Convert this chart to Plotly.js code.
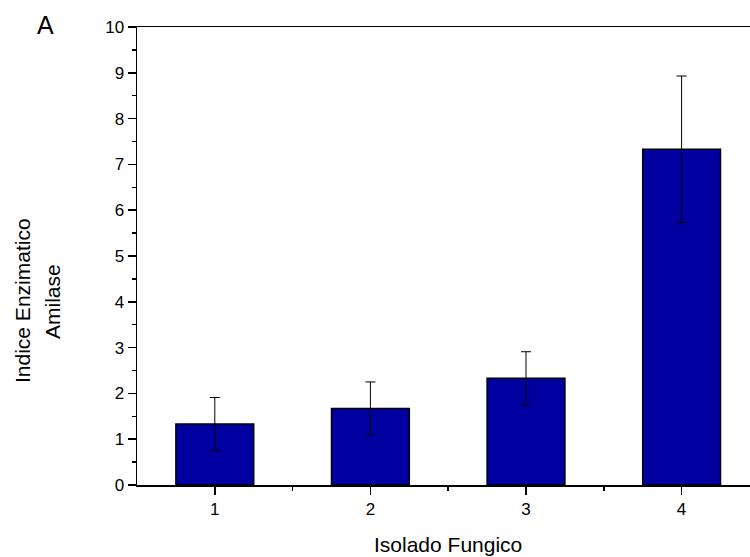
<!DOCTYPE html>
<html>
<head>
<meta charset="utf-8">
<script src="https://cdn.plot.ly/plotly-3.0.1.min.js"></script>
<style>html,body{margin:0;padding:0;background:#fff;}#chart{width:750px;height:557px;}</style>
</head>
<body>
<div id="chart"></div>
<script>
const isolates = [1, 2, 3, 4];
const tickLabels = ["1", "2", "3", "4"];
const amylaseIndex = [1.33, 1.67, 2.33, 7.33];
const amylaseSD = [0.58, 0.58, 0.58, 1.6];

const W = 750, H = 557;
const M = {l: 137, r: 0, t: 27, b: 72};
const pw = W - M.l - M.r, ph = H - M.t - M.b;
const px2x = p => (p - M.l) / pw;
const px2y = p => (H - M.b - p) / ph;
const FONT = "Liberation Sans, Arial, sans-serif";

const trace = {
  type: 'bar',
  x: isolates,
  y: amylaseIndex,
  width: 0.5,
  marker: {color: '#0000A0', line: {color: '#000000', width: 1.5}},
  error_y: {type: 'data', array: amylaseSD, visible: true, color: '#000000', thickness: 1, width: 5},
  hoverinfo: 'x+y'
};

const layout = {
  width: W, height: H,
  margin: M,
  paper_bgcolor: '#ffffff', plot_bgcolor: '#ffffff',
  font: {family: FONT, color: '#000000'},
  showlegend: false,
  xaxis: {
    range: [0.5, 0.5 + pw / 155.6],
    tickmode: 'array', tickvals: isolates, ticktext: tickLabels,
    ticks: 'outside', ticklen: 8, tickwidth: 1.5, tickcolor: '#000',
    minor: {ticks: 'outside', ticklen: 4, tickwidth: 1.5, tickcolor: '#000', tickvals: [1.5, 2.5, 3.5]},
    showline: true, linecolor: '#000', linewidth: 1.5, mirror: true,
    showgrid: false, zeroline: false,
    tickfont: {size: 17, family: FONT, color: '#000'}
  },
  yaxis: {
    range: [0, 10], dtick: 1, tick0: 0,
    ticks: 'outside', ticklen: 8, tickwidth: 1.5, tickcolor: '#000',
    minor: {ticks: 'outside', ticklen: 4, tickwidth: 1.5, tickcolor: '#000', dtick: 0.5},
    showline: true, linecolor: '#000', linewidth: 1.5, mirror: false,
    showgrid: false, zeroline: false,
    tickfont: {size: 17, family: FONT, color: '#000'}
  },
  annotations: [
    {text: 'Indice Enzimatico', xref: 'paper', yref: 'paper', x: px2x(22), y: px2y(301),
     xanchor: 'center', yanchor: 'middle', textangle: -90, showarrow: false,
     font: {size: 21, family: FONT, color: '#000'}},
    {text: 'Amilase', xref: 'paper', yref: 'paper', x: px2x(52), y: px2y(302),
     xanchor: 'center', yanchor: 'middle', textangle: -90, showarrow: false,
     font: {size: 21, family: FONT, color: '#000'}},
    {text: 'Isolado Fungico', xref: 'paper', yref: 'paper', x: px2x(448), y: px2y(544),
     xanchor: 'center', yanchor: 'middle', showarrow: false,
     font: {size: 21, family: FONT, color: '#000'}},
    {text: 'A', xref: 'paper', yref: 'paper', x: px2x(45), y: px2y(25),
     xanchor: 'center', yanchor: 'middle', showarrow: false,
     font: {size: 25, family: FONT, color: '#000'}}
  ]
};

Plotly.newPlot('chart', [trace], layout, {displayModeBar: false, staticPlot: true});
</script>
</body>
</html>
